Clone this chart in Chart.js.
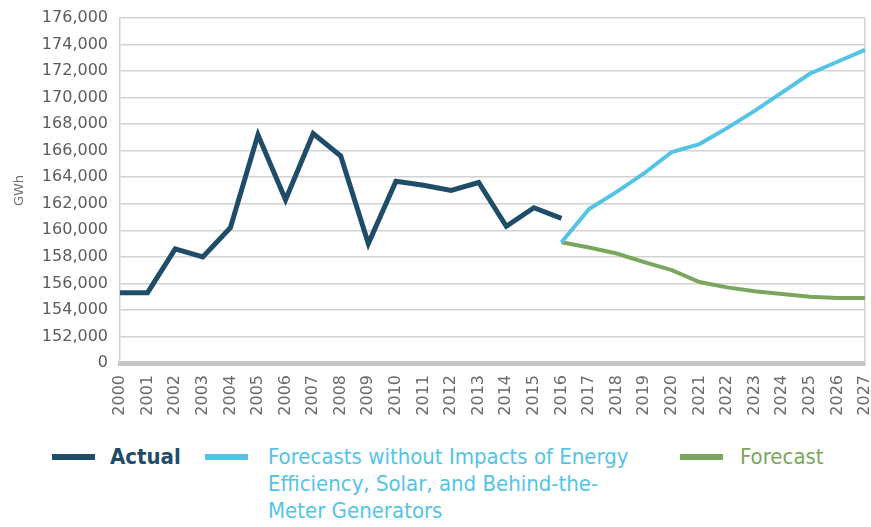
<!DOCTYPE html>
<html>
<head>
<meta charset="utf-8">
<script src="https://cdn.jsdelivr.net/npm/chart.js@4"></script>
<style>
  body { margin: 0; background: #fff; }
  #wrap { position: relative; width: 871px; height: 527px; }
  #chartBox { position: absolute; left: 0; top: 0; width: 871px; height: 430px; }
  #legend { position: absolute; left: 0; top: 443px; width: 871px; }
  .item { position: absolute; top: 0; font-family: 'DejaVu Sans Condensed', 'DejaVu Sans', sans-serif; font-size: 22px; line-height: 27px; }
  .item .swatch { position: absolute; left: 0; top: 11px; width: 43px; height: 6px; }
  .item .text { position: absolute; white-space: nowrap; }
</style>
</head>
<body>
<div id="wrap">
  <div id="chartBox"><canvas id="myChart"></canvas></div>
  <div id="legend"></div>
</div>
<script>
// annual consumption, GWh
const years = ['2000','2001','2002','2003','2004','2005','2006','2007','2008','2009','2010','2011','2012','2013',
  '2014','2015','2016','2017','2018','2019','2020','2021','2022','2023','2024','2025','2026','2027'];

const actual = [155300, 155300, 158600, 158000, 160200, 167200, 162300, 167300, 165600, 159000, 163700, 163400,
  163000, 163600, 160300, 161700, 160900, null, null, null, null, null, null, null, null, null, null, null];

const withoutImpacts = [null, null, null, null, null, null, null, null, null, null, null, null, null, null, null, null,
  159100, 161600, 162900, 164300, 165900, 166500, 167700, 169000, 170400, 171800, 172700, 173600];

const forecast = [null, null, null, null, null, null, null, null, null, null, null, null, null, null, null, null,
  159100, 158700, 158250, 157600, 157000, 156100, 155700, 155400, 155200, 155000, 154900, 154900];

const seriesLabels = [
  ['Actual'],
  ['Forecasts without Impacts of Energy', 'Efficiency, Solar, and Behind-the-', 'Meter Generators'],
  ['Forecast']
];
const seriesColors = ['#1f4d69', '#54c4e6', '#7ba65e'];

// the axis is broken: its floor stands for zero
const axisFloor = 150000;

let chart;

window.onload = function() {
  var ctx = document.getElementById('myChart').getContext('2d');
  Chart.defaults.font.family = "'DejaVu Sans', sans-serif";
  chart = new Chart(ctx, {
    type: 'line',
    data: {
      labels: years,
      datasets: [
        { label: seriesLabels[0].join(' '), data: actual, borderColor: seriesColors[0], borderWidth: 5 },
        { label: seriesLabels[1].join(' '), data: withoutImpacts, borderColor: seriesColors[1], borderWidth: 4 },
        { label: seriesLabels[2].join(' '), data: forecast, borderColor: seriesColors[2], borderWidth: 4 },
      ],
    },
    options: {
      responsive: true,
      maintainAspectRatio: false,
      animation: false,
      layout: { padding: { top: 18, right: 6, left: 0, bottom: 0 } },
      elements: {
        point: { radius: 0 },
        line: { tension: 0, borderCapStyle: 'butt', borderJoinStyle: 'miter' },
      },
      plugins: {
        legend: { display: false },
        tooltip: { enabled: false },
      },
      scales: {
        x: {
          offset: false,
          grid: {
            drawTicks: false,
            lineWidth: 1.5,
            color: ctx => ctx.index === years.length - 1 ? '#d2d2d2' : 'transparent',
          },
          border: { color: '#c6c6c6', width: 5 },
          ticks: {
            color: '#6a6a6a',
            font: { size: 16 },
            minRotation: 90,
            maxRotation: 90,
            autoSkip: false,
            padding: 12,
          },
          afterFit: scale => {
            scale.height = 67;
            scale.paddingRight = 0;
            scale.paddingLeft = 0;
          },
        },
        y: {
          min: axisFloor,
          max: 176000,
          grid: { color: '#d2d2d2', lineWidth: 1.5, drawTicks: false },
          border: { color: '#d2d2d2', width: 1.5 },
          ticks: {
            stepSize: 2000,
            color: '#5c5c5c',
            font: { size: 16 },
            padding: 12,
            callback: v => v === axisFloor ? '0' : v.toLocaleString('en-US'),
          },
          title: {
            display: true,
            text: 'GWh',
            color: '#707070',
            font: { size: 13 },
            padding: { top: 12, bottom: 0 },
          },
          afterFit: scale => {
            scale.width = 120;
            scale.paddingTop = 0;
            scale.paddingBottom = 0;
          },
        },
      },
    },
  });

  buildLegend();
};

// legend sits under the chart; the long label is broken over three lines
function buildLegend() {
  var lefts = [52, 205, 680];
  var textOffsets = [58, 63, 60];
  var weights = ['bold', 'normal', 'normal'];
  var box = document.getElementById('legend');
  seriesLabels.forEach(function(lines, i) {
    var item = document.createElement('div');
    item.className = 'item';
    item.style.left = lefts[i] + 'px';
    var sw = document.createElement('div');
    sw.className = 'swatch';
    sw.style.background = seriesColors[i];
    var tx = document.createElement('div');
    tx.className = 'text';
    tx.style.left = textOffsets[i] + 'px';
    tx.style.color = seriesColors[i];
    tx.style.fontWeight = weights[i];
    tx.innerHTML = lines.join('<br>');
    item.appendChild(sw);
    item.appendChild(tx);
    box.appendChild(item);
  });
}
</script>
</body>
</html>
